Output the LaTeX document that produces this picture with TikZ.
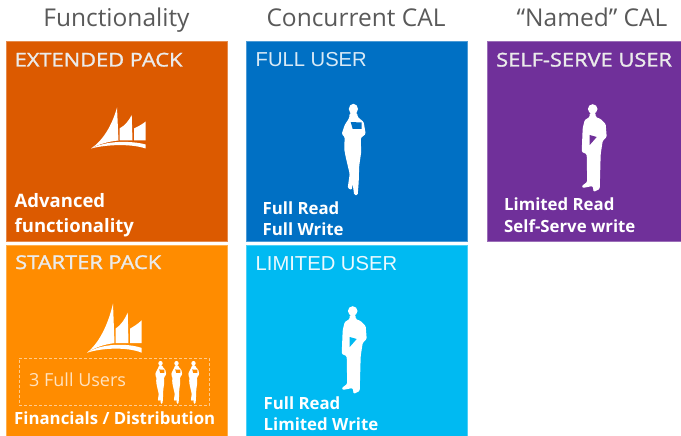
\documentclass[tikz,border=0pt]{standalone}
\usepackage{fontspec}
\setmainfont{Open Sans}
\newfontfamily\packfont[FakeStretch=1.15,FakeBold=1.5]{Open Sans}
\newfontfamily\userfont{Liberation Sans}
\usetikzlibrary{positioning}

\begin{document}
\begin{tikzpicture}
                [
                    x=1pt,
                    y=-1pt,
                    node distance=200pt,
                    tile/.style={shape=rectangle, inner sep=0pt, outer sep=0pt, line width=0.5pt},
                    tile top/.style={tile, minimum width=221pt, minimum height=200pt},
                    tile low/.style={tile, minimum width=221pt, minimum height=191pt},
                    heading/.style={anchor=base, inner sep=0pt, font=\fontsize{24.5}{26}\selectfont, text=black!65},
                    tile title/.style={anchor=base west, inner sep=0pt, font=\packfont\fontsize{19}{22}\selectfont, text=white!92!black},
                    user title/.style={anchor=base west, inner sep=0pt, font=\userfont\fontsize{20.2}{22}\selectfont, text=white!85!userfull},
                    tile text/.style={anchor=base west, inner sep=0pt, font=\fontsize{16.8}{18}\selectfont\bfseries, text=white},
                    silhouette/.style={fill=white, draw=none},
                    pics/ship/.style={code={
                        \fill [silhouette] (0,41) .. controls (12,33) and (21,18) .. (26,0) -- (27.5,33) .. controls (17,34) and (7,37) .. (0,41) -- cycle;
                        \fill [silhouette] (40.7,7.5) -- (41.5,33) -- (28.5,33) -- (28.5,21) .. controls (34,18) and (38,13) .. (40.7,7.5) -- cycle;
                        \fill [silhouette] (54.7,14) -- (54.7,33) -- (43,33) -- (43,21) .. controls (47,19) and (51,17) .. (54.7,14) -- cycle;
                        \fill [silhouette] (0,41) .. controls (15,33) and (40,33) .. (54.7,37) -- (54.7,41) .. controls (40,36) and (15,37) .. (0,41) -- cycle;
                    }},
                    pics/woman/.style={code={
                        \fill [silhouette] (11.7,5) ellipse [x radius=4.6, y radius=5.2];
                        \fill [silhouette, rounded corners=1.2pt] (8,9) -- (7.5,14) -- (3,21) -- (0,30) -- (3,33) -- (2.5,45) -- (4,53) -- (8,70) -- (6,84) -- (10,86) -- (11,80) -- (12.5,91) -- (16,91) -- (17,78) -- (17.5,62) -- (19.5,48) -- (19,34) -- (24,30) -- (22,18) -- (16,13) -- (15.5,9) -- cycle;
                        \fill [#1] (9,18) -- (20,18.5) -- (20,25) -- (11,25) -- cycle;
                    }},
                    pics/man/.style={code={
                        \fill [silhouette] (11,5) circle [radius=4.8];
                        \fill [silhouette, rounded corners=1.2pt] (8,9) -- (8,13) -- (3,16) -- (1,24) -- (0,48) -- (5,50) -- (5.5,78) -- (0,82) -- (1,84) -- (11,82) -- (12,88) -- (18,85) -- (19,50) -- (21,37) -- (25,33) -- (24,20) -- (19,15) -- (14,13) -- (14,9) -- cycle;
                        \fill [#1] (8,31) -- (15,33) -- (8,41) -- cycle;
                    }}
                ]
                \useasboundingbox (0,0) rectangle (681,436);

                \definecolor{packdark}{HTML}{DC5A00}
                \definecolor{packlight}{HTML}{FF8C00}
                \definecolor{userfull}{HTML}{0070C4}
                \definecolor{userlimited}{HTML}{00BAF2}
                \definecolor{userself}{HTML}{70309A}

                \node (extended) [tile top, fill=packdark, draw=packdark!70!white] at (116.5,141.5) {};
                \node (starter) [tile low, below of=extended, node distance=199pt, fill=packlight, draw=packlight!70!white] {};
                \node (full) [tile top, right of=extended, node distance=240.5pt, fill=userfull, draw=userfull!70!white] {};
                \node (limited) [tile low, below of=full, node distance=199pt, fill=userlimited, draw=userlimited!70!white] {};
                \node (self) [tile top, minimum width=194pt, right of=full, node distance=227pt, fill=userself, draw=userself!70!white] {};

                \node (head pack) [heading] at ([yshift=14.5pt]extended.north) {Functionality};
                \node (head conc) [heading] at ([xshift=-1pt,yshift=15pt]full.north) {Concurrent CAL};
                \node (head named) [heading] at ([xshift=8pt,yshift=15pt]self.north) {“Named” CAL};

                \node (extended title) [tile title] at ([xshift=8.5pt,yshift=-25pt]extended.north west) {EXTENDED PACK};
                \node (starter title) [tile title] at ([xshift=9pt,yshift=-24pt]starter.north west) {STARTER PACK};
                \node (full title) [user title] at ([xshift=9pt,yshift=-25pt]full.north west) {FULL USER};
                \node (limited title) [user title, text=white!92!userlimited] at ([xshift=9pt,yshift=-25pt]limited.north west) {LIMITED USER};
                \node (self title) [tile title] at ([xshift=9pt,yshift=-25pt]self.north west) {SELF-SERVE USER};

                \node (extended l1) [tile text, font=\fontsize{18.5}{20}\selectfont\bfseries] at ([xshift=8.5pt,yshift=-165.5pt]extended.north west) {Advanced};
                \node (extended l2) [tile text, font=\fontsize{18.5}{20}\selectfont\bfseries] at ([xshift=8.5pt,yshift=-190.5pt]extended.north west) {functionality};
                \node (starter l1) [tile text] at ([xshift=8pt,yshift=-179pt]starter.north west) {Financials / Distribution};
                \node (full l1) [tile text] at ([xshift=16pt,yshift=-172.5pt]full.north west) {Full Read};
                \node (full l2) [tile text] at ([xshift=16pt,yshift=-193.5pt]full.north west) {Full Write};
                \node (limited l1) [tile text] at ([xshift=17pt,yshift=-164pt]limited.north west) {Full Read};
                \node (limited l2) [tile text] at ([xshift=17pt,yshift=-185pt]limited.north west) {Limited Write};
                \node (self l1) [tile text] at ([xshift=17pt,yshift=-168.5pt]self.north west) {Limited Read};
                \node (self l2) [tile text] at ([xshift=17pt,yshift=-190.5pt]self.north west) {Self-Serve write};

                \node (users box) [tile, minimum width=190.5pt, minimum height=47pt, draw=packlight!45!white, densely dashed, line width=0.4pt] at (114.2,381.5) {};
                \node (users text) [anchor=base west, inner sep=0pt, font=\fontsize{18}{20}\selectfont, text=packlight!25!white] at (29,386) {3 Full Users};

                \pic at (91,107.5) {ship};
                \pic [yscale=1.2] at (87,303.5) {ship};
                \pic at (341.7,104) {woman=userfull};
                \pic at (341.7,306) {man=userlimited};
                \pic at (581.7,104) {man=userself};
                \pic [scale=0.47] at (155,361) {woman=packlight};
                \pic [scale=0.47] at (171,361) {woman=packlight};
                \pic [scale=0.47] at (188,361) {woman=packlight};
            \end{tikzpicture}
\end{document}
